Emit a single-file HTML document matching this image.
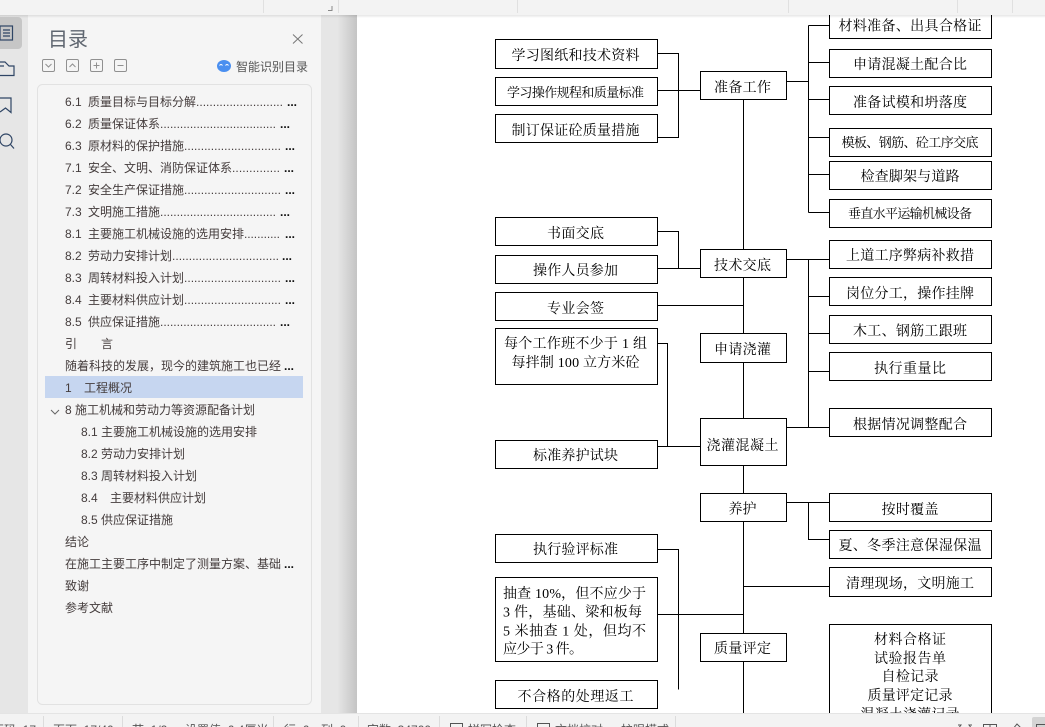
<!DOCTYPE html>
<html lang="zh"><head><meta charset="utf-8"><title>目录</title>
<style>
html,body{margin:0;padding:0;width:1045px;height:727px;overflow:hidden;background:#fff}
svg{display:block}
.d text{font-family:"Liberation Serif","Noto Serif CJK SC",serif;font-size:14px;fill:#000;text-anchor:middle}
.d text.l{text-anchor:start}
.d rect{fill:#fff;stroke:#000;stroke-width:1}
.d path{fill:none;stroke:#000;stroke-width:1}
.t text{font-family:"Liberation Sans","Noto Sans CJK SC",sans-serif;font-size:12px;fill:#443c3c}
.t text.e{fill:#111;font-weight:bold}
.s text{font-family:"Liberation Sans","Noto Sans CJK SC",sans-serif;font-size:12px;fill:#555}
</style></head><body>
<svg width="1045" height="727" viewBox="0 0 1045 727" xmlns="http://www.w3.org/2000/svg">
<defs><linearGradient id="g" x1="0" x2="1" y1="0" y2="0"><stop offset="0" stop-color="#e6e6e6"/><stop offset=".45" stop-color="#e6e6e6"/><stop offset="1" stop-color="#c4c4c4"/></linearGradient>
<linearGradient id="sh" x1="0" x2="0" y1="0" y2="1"><stop offset="0" stop-color="#000" stop-opacity=".1"/><stop offset="1" stop-color="#000" stop-opacity="0"/></linearGradient></defs>

<!-- backgrounds -->
<rect x="0" y="0" width="1045" height="727" fill="#fff"/>
<rect x="0" y="15" width="28" height="700" fill="#e6e6e6"/>
<rect x="28" y="15" width="293" height="700" fill="#f5f5f5"/>
<rect x="321" y="15" width="36" height="700" fill="url(#g)"/>

<!-- diagram -->
<g class="d" shape-rendering="crispEdges">
<path d="M658 53.5H678.5V137.5H658M658 90.5H700.5M786.5 81.5H808.5M808.5 25.5V212.5M808.5 25.5H829.5M808.5 62.5H829.5M808.5 99.5H829.5M808.5 137.5H829.5M808.5 174.5H829.5M808.5 212.5H829.5"/>
<path d="M743.5 99V725"/>
<path d="M658 231.5H678.5V268.5M658 268.5H700.5"/>
<path d="M786.5 259.5H829.5M808.5 259.5V427.5M808.5 296.5H829.5M808.5 333.5H829.5M808.5 371.5H829.5M786.5 427.5H829.5"/>
<path d="M658 305.5H743.5"/>
<path d="M658 343.5H667.5V446.5M658 446.5H700.5"/>
<path d="M786.5 502.5H829.5M808.5 502.5V539.5H829.5M743.5 586.5H829.5"/>
<path d="M658 549.5H678.5V689.5M658 614.5H743.5"/>

<rect x="495.5" y="39.5" width="162" height="29"/>
<rect x="495.5" y="77.5" width="162" height="28"/>
<rect x="495.5" y="114.5" width="162" height="28"/>
<rect x="700.5" y="71.5" width="86" height="28"/>
<rect x="829.5" y="5.5" width="162" height="33"/>
<rect x="829.5" y="49.5" width="162" height="28"/>
<rect x="829.5" y="86.5" width="162" height="28"/>
<rect x="829.5" y="128.5" width="162" height="28"/>
<rect x="829.5" y="161.5" width="162" height="28"/>
<rect x="829.5" y="199.5" width="162" height="28"/>
<rect x="495.5" y="217.5" width="162" height="28"/>
<rect x="495.5" y="255.5" width="162" height="28"/>
<rect x="700.5" y="249.5" width="86" height="28"/>
<rect x="829.5" y="240.5" width="162" height="28"/>
<rect x="829.5" y="277.5" width="162" height="28"/>
<rect x="829.5" y="315.5" width="162" height="28"/>
<rect x="829.5" y="352.5" width="162" height="28"/>
<rect x="829.5" y="408.5" width="162" height="28"/>
<rect x="495.5" y="292.5" width="162" height="28"/>
<rect x="495.5" y="328.5" width="162" height="56"/>
<rect x="700.5" y="333.5" width="86" height="29"/>
<rect x="700.5" y="418.5" width="86" height="47"/>
<rect x="495.5" y="440.5" width="162" height="28"/>
<rect x="700.5" y="493.5" width="86" height="28"/>
<rect x="829.5" y="493.5" width="162" height="28"/>
<rect x="829.5" y="530.5" width="162" height="28"/>
<rect x="829.5" y="567.5" width="162" height="29"/>
<rect x="495.5" y="534.5" width="162" height="28"/>
<rect x="495.5" y="577.5" width="162" height="84"/>
<rect x="700.5" y="633.5" width="86" height="28"/>
<rect x="829.5" y="624.5" width="162" height="110"/>
<rect x="495.5" y="680.5" width="162" height="28"/>
</g>
<g class="d" transform="translate(-1 1)">
<text x="576.5" y="59" textLength="128">学习图纸和技术资料</text>
<text x="576.5" y="96" textLength="137" style="font-size:13px">学习操作规程和质量标准</text>
<text x="576.5" y="134" textLength="128">制订保证砼质量措施</text>
<text x="743.5" y="91" textLength="57">准备工作</text>
<text x="911" y="29.5" textLength="143">材料准备、出具合格证</text>
<text x="911" y="68" textLength="114">申请混凝土配合比</text>
<text x="911" y="106" textLength="114">准备试模和坍落度</text>
<text x="911" y="146" textLength="137" style="font-size:13px">模板、钢筋、砼工序交底</text>
<text x="911" y="180" textLength="99">检查脚架与道路</text>
<text x="911" y="217" textLength="124" style="font-size:13px">垂直水平运输机械设备</text>
<text x="576.5" y="237" textLength="57">书面交底</text>
<text x="576.5" y="274" textLength="85">操作人员参加</text>
<text x="743.5" y="269" textLength="57">技术交底</text>
<text x="911" y="259" textLength="128">上道工序弊病补救措</text>
<text x="911" y="297" textLength="128">岗位分工，操作挂牌</text>
<text x="911" y="334.5" textLength="114">木工、钢筋工跟班</text>
<text x="911" y="372" textLength="72">执行重量比</text>
<text x="911" y="428" textLength="114">根据情况调整配合</text>
<text x="576.5" y="312" textLength="57">专业会签</text>
<text x="576.5" y="347" textLength="143">每个工作班不少于 1 组</text>
<text x="576.5" y="366" textLength="128">每拌制 100 立方米砼</text>
<text x="743.5" y="353" textLength="57">申请浇灌</text>
<text x="743.5" y="449" textLength="72">浇灌混凝土</text>
<text x="576.5" y="459" textLength="85">标准养护试块</text>
<text x="743.5" y="512.5" textLength="28">养护</text>
<text x="911" y="513" textLength="57">按时覆盖</text>
<text x="911" y="549" textLength="143">夏、冬季注意保湿保温</text>
<text x="911" y="587" textLength="128">清理现场，文明施工</text>
<text x="576.5" y="553" textLength="85">执行验评标准</text>
<text class="l" x="504" y="597" textLength="143">抽查 10%，但不应少于</text>
<text class="l" x="504" y="615.5" textLength="139">3 件，基础、梁和板每</text>
<text class="l" x="504" y="634.5" textLength="143">5 米抽查 1 处，但均不</text>
<text class="l" x="504" y="652.5" textLength="80">应少于 3 件。</text>
<text x="743.5" y="652" textLength="57">质量评定</text>
<text x="911" y="643" textLength="72">材料合格证</text>
<text x="911" y="662" textLength="72">试验报告单</text>
<text x="911" y="680" textLength="57">自检记录</text>
<text x="911" y="699" textLength="85">质量评定记录</text>
<text x="911" y="718" textLength="99">混凝土浇灌记录</text>
<text x="576.5" y="700" textLength="116">不合格的处理返工</text>
</g>

<!-- top bar -->
<rect x="0" y="0" width="1045" height="15" fill="#f3f3f3"/>
<rect x="0" y="15" width="1045" height="3" fill="url(#sh)"/>
<g stroke="#e0e0e0" shape-rendering="crispEdges"><path d="M263.5 0V13M338.5 0V13M517.5 0V13M788.5 0V13M957.5 0V13M1012.5 0V13"/></g>
<path d="M332 6V10.5H328" fill="none" stroke="#888"/>

<!-- rail -->
<rect x="-8" y="17" width="30" height="32" rx="4" fill="#c6c6c6"/>
<g fill="none" stroke="#2f4565" stroke-width="1.2">
<rect x="0" y="26" width="12.5" height="14"/><path d="M3 30H10M3 33H10M3 36H10"/>
<path d="M0 62H5L9 66H14V75.5H0M0 66H4"/>
<path d="M0 98H11V112.5L5.5 108L0 112"/>
<circle cx="6" cy="140" r="6"/><path d="M10.5 144.5L14 148.5"/>
</g>

<!-- panel header -->
<text x="48" y="46" style="font-family:'Liberation Sans','Noto Sans CJK SC',sans-serif;font-size:20px;fill:#5f6670">目录</text>
<path d="M293 34.500L302.500 43.500M302.500 34.500L293 43.500" stroke="#777" fill="none"/>
<g fill="none" stroke="#909090">
<rect x="42.500" y="59.500" width="12" height="12" rx="1.500"/><path d="M45.500 64L48.500 67L51.500 64"/>
<rect x="66.500" y="59.500" width="12" height="12" rx="1.500"/><path d="M69.500 67L72.500 64L75.500 67"/>
<rect x="90.500" y="59.500" width="12" height="12" rx="1.500"/><path d="M93.500 65.500H99.500M96.500 62.500V68.500"/>
<rect x="114.500" y="59.500" width="12" height="12" rx="1.500"/><path d="M117.500 65.500H123.500"/>
</g>
<ellipse cx="224" cy="66" rx="7" ry="6" fill="#4a8ff0"/>
<path d="M219.500 65.500Q221 63.500 222.500 65.500M225.500 65.500Q227 63.500 228.500 65.500" stroke="#fff" fill="none"/>
<text x="236" y="71" style="font-family:'Liberation Sans','Noto Sans CJK SC',sans-serif;font-size:12px;fill:#555">智能识别目录</text>

<!-- toc -->
<rect x="37.500" y="84.500" width="274" height="620" rx="5" fill="#f5f5f5" stroke="#e2e2e2"/>
<rect x="45" y="376" width="258" height="22" fill="#c6d6f0"/>
<path d="M51 410L55 414L59 410" stroke="#666" fill="none"/>
<g class="t">
<text x="65" y="106">6.1</text><text x="88" y="106">质量目标与目标分解</text><text x="196" y="106" textLength="87">..........................</text><text class="e" x="287" y="106">...</text>
<text x="65" y="128">6.2</text><text x="88" y="128">质量保证体系</text><text x="160" y="128" textLength="116">...................................</text><text class="e" x="280" y="128">...</text>
<text x="65" y="150">6.3</text><text x="88" y="150">原材料的保护措施</text><text x="184" y="150" textLength="97">.............................</text><text class="e" x="285" y="150">...</text>
<text x="65" y="172">7.1</text><text x="88" y="172">安全、文明、消防保证体系</text><text x="232" y="172" textLength="48">..............</text><text class="e" x="284" y="172">...</text>
<text x="65" y="194">7.2</text><text x="88" y="194">安全生产保证措施</text><text x="184" y="194" textLength="97">.............................</text><text class="e" x="285" y="194">...</text>
<text x="65" y="216">7.3</text><text x="88" y="216">文明施工措施</text><text x="160" y="216" textLength="116">...................................</text><text class="e" x="280" y="216">...</text>
<text x="65" y="238">8.1</text><text x="88" y="238">主要施工机械设施的选用安排</text><text x="244" y="238" textLength="36">...........</text><text class="e" x="285" y="238">...</text>
<text x="65" y="260">8.2</text><text x="88" y="260">劳动力安排计划</text><text x="172" y="260" textLength="107">................................</text><text class="e" x="282" y="260">...</text>
<text x="65" y="282">8.3</text><text x="88" y="282">周转材料投入计划</text><text x="184" y="282" textLength="97">.............................</text><text class="e" x="285" y="282">...</text>
<text x="65" y="304">8.4</text><text x="88" y="304">主要材料供应计划</text><text x="184" y="304" textLength="97">.............................</text><text class="e" x="285" y="304">...</text>
<text x="65" y="326">8.5</text><text x="88" y="326">供应保证措施</text><text x="160" y="326" textLength="116">...................................</text><text class="e" x="280" y="326">...</text>
<text x="65" y="348">引</text><text x="101" y="348">言</text>
<text x="65" y="370">随着科技的发展，现今的建筑施工也已经</text><text class="e" x="284" y="370">...</text>
<text x="65" y="392">1</text><text x="84" y="392">工程概况</text>
<text x="65" y="414">8 施工机械和劳动力等资源配备计划</text>
<text x="81" y="436">8.1 主要施工机械设施的选用安排</text>
<text x="81" y="458">8.2 劳动力安排计划</text>
<text x="81" y="480">8.3 周转材料投入计划</text>
<text x="81" y="502">8.4</text><text x="110" y="502">主要材料供应计划</text>
<text x="81" y="524">8.5 供应保证措施</text>
<text x="65" y="546">结论</text>
<text x="65" y="568">在施工主要工序中制定了测量方案、基础</text><text class="e" x="284" y="568">...</text>
<text x="65" y="590">致谢</text>
<text x="65" y="612">参考文献</text>
</g>

<!-- status bar -->
<rect x="0" y="714" width="1045" height="13" fill="#f3f3f3"/>
<path d="M0 713.500H1045" stroke="#e4e4e4" shape-rendering="crispEdges"/>
<g stroke="#dcdcdc" shape-rendering="crispEdges"><path d="M43.500 716V727M122.500 716V727M273.500 716V727M358.500 716V727M439.500 716V727M526.500 716V727M675.500 716V727"/></g>
<g class="s">
<text x="-8" y="734">页码: 17</text>
<text x="53" y="734">页面: 17/40</text>
<text x="132" y="734">节: 1/2</text>
<text x="185" y="734">设置值: 6.4厘米</text>
<text x="284" y="734">行: 6</text>
<text x="321" y="734">列: 0</text>
<text x="367" y="734">字数: 34700</text>
<text x="468" y="734">拼写检查</text>
<text x="555" y="734">文档校对</text>
<text x="621" y="734">护眼模式</text>
</g>
<g fill="none" stroke="#555">
<rect x="450.500" y="723.500" width="12" height="12"/>
<rect x="537.500" y="723.500" width="12" height="12"/>
<path d="M958 729L961 725H958M972 729L969 725H972"/>
<path d="M983.500 735V724.500H996.500V735M990 724.500V735"/>
<path d="M1012 730L1017 724L1021 728"/>
</g>
<rect x="1032" y="717" width="20" height="14" rx="2" fill="#d4d4d4"/>
<rect x="1036.500" y="724.500" width="12" height="10" fill="none" stroke="#555"/>
</svg>
</body></html>
